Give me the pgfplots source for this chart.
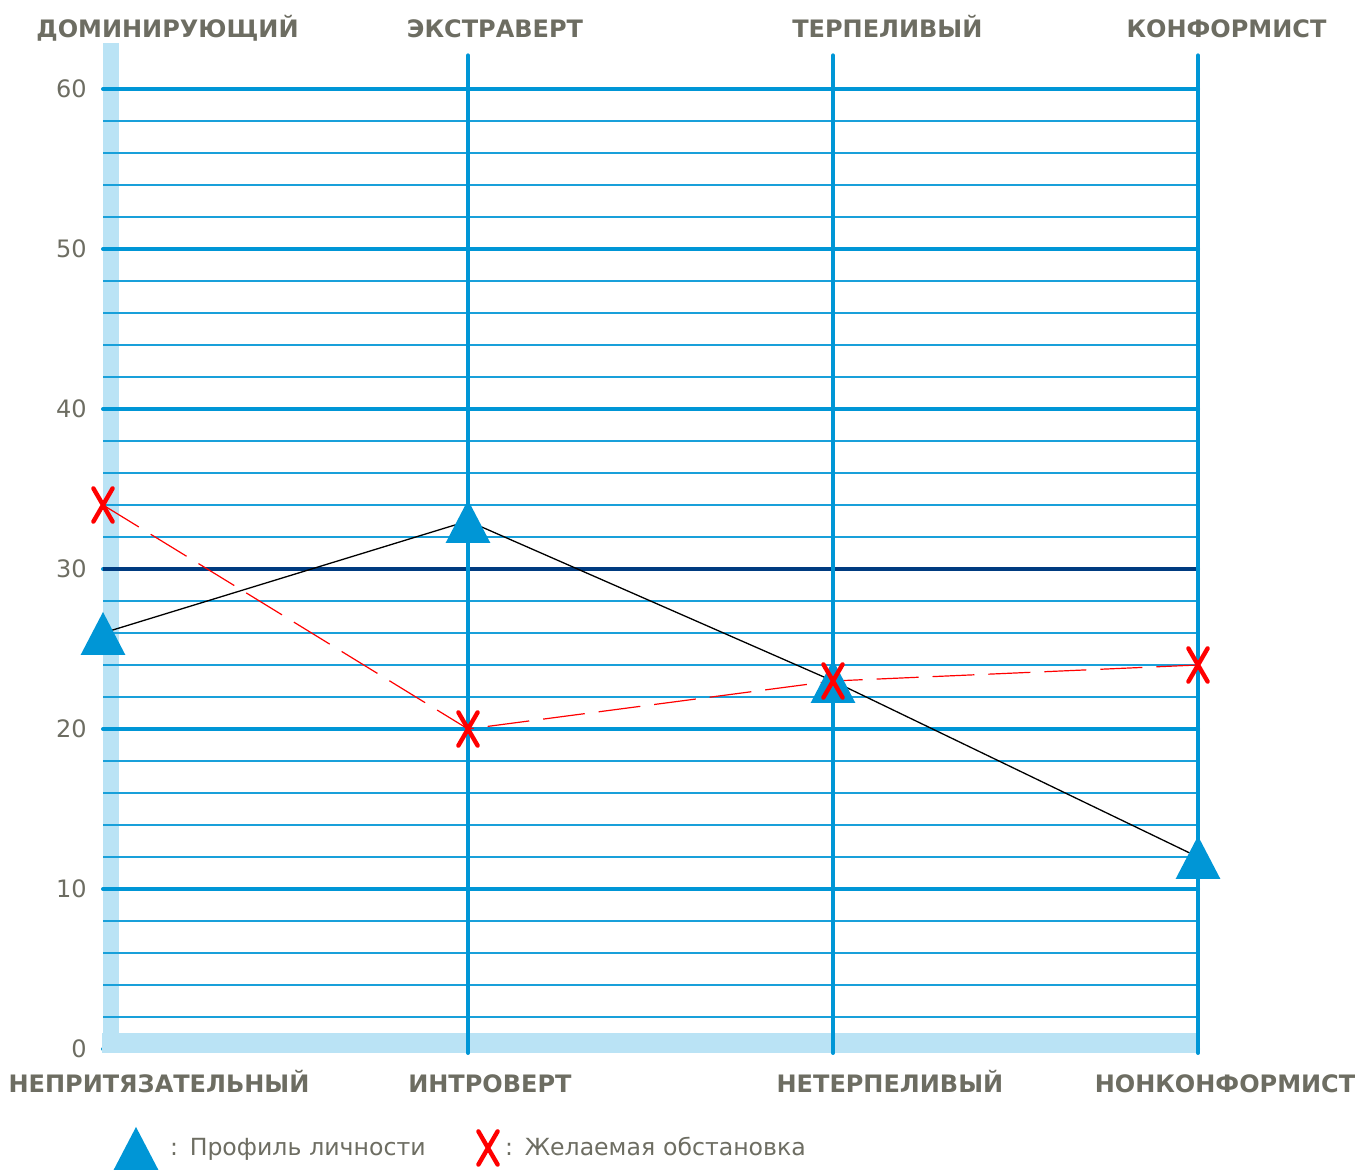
\documentclass[border=0pt]{standalone}
\usepackage{pgfplots}
\pgfplotsset{compat=1.18}
\usepackage{fontspec}
\setmainfont{DejaVu Sans}

\definecolor{gridblue}{HTML}{0096D6}
\definecolor{bandblue}{HTML}{BAE3F5}
\definecolor{navyline}{HTML}{003B80}
\definecolor{textgray}{HTML}{6D6D62}

% big markers as in the reference
\pgfdeclareplotmark{bigtri}{%
  \pgfpathmoveto{\pgfqpoint{0pt}{10.5pt}}%
  \pgfpathlineto{\pgfqpoint{11.2pt}{-11pt}}%
  \pgfpathlineto{\pgfqpoint{-11.2pt}{-11pt}}%
  \pgfpathclose
  \pgfusepathqfill}
\pgfdeclareplotmark{bigx}{%
  \pgfpathmoveto{\pgfqpoint{-4.8pt}{-8.3pt}}%
  \pgfpathlineto{\pgfqpoint{4.8pt}{8.3pt}}%
  \pgfpathmoveto{\pgfqpoint{-4.8pt}{8.3pt}}%
  \pgfpathlineto{\pgfqpoint{4.8pt}{-8.3pt}}%
  \pgfusepathqstroke}

\pgfplotsset{
  tri legend/.style={legend image code/.code={%
    \path[use as bounding box, draw=none, fill=none] (0pt,-10pt) rectangle (29pt,10pt);
    \pgfinterruptboundingbox
    \draw[##1, only marks] plot coordinates {(12pt,0pt)};
    \endpgfinterruptboundingbox}},
  x legend/.style={legend image code/.code={%
    \path[use as bounding box, draw=none, fill=none] (0pt,-10pt) rectangle (20.5pt,10pt);
    \pgfinterruptboundingbox
    \draw[##1, only marks] plot coordinates {(12pt,0pt)};
    \endpgfinterruptboundingbox}},
}

\tikzset{catlabel/.style={font=\bfseries\fontsize{12}{14}\selectfont, text=textgray, anchor=base, inner sep=0pt}}

\begin{document}
\begin{tikzpicture}
\begin{axis}[
  set layers,
  at={(0,0)}, anchor=south west,
  scale only axis, width=547.5pt, height=498.8pt,
  xmin=0, xmax=3, ymin=-0.25, ymax=62.1,
  clip=false,
  axis line style={draw=none},
  tick style={draw=none},
  major tick length=0pt, minor tick length=0pt,
  xtick=\empty,
  ytick={0,10,20,30,40,50,60},
  minor ytick={2,4,6,8,12,14,16,18,22,24,26,28,32,34,36,38,42,44,46,48,52,54,56,58},
  ymajorgrids, yminorgrids,
  major grid style={gridblue, line width=2pt, line cap=round},
  minor grid style={gridblue!90, line width=0.85pt},
  /pgf/number format/assume math mode=true,
  yticklabel style={font=\fontsize{12}{14}\selectfont, text=textgray, inner sep=0pt, anchor=east, xshift=-8pt},
  legend columns=2,
  legend cell align=left,
  legend style={at={(0.00822,-0.0952)}, anchor=west, draw=none, fill=none,
    inner sep=0pt, outer sep=0pt, column sep=0pt, row sep=0pt,
    nodes={inner sep=0pt, text width=147pt, align=left,
      font=\fontsize{11.8}{14}\selectfont, text=textgray}},
]
\begin{pgfonlayer}{axis background}
  \fill[bandblue] (axis cs:0,-0.25) rectangle (axis cs:0.044,62.9);
\end{pgfonlayer}

\draw[navyline, line width=2pt] (axis cs:0,30) -- (axis cs:3,30);
\fill[bandblue] (axis cs:-0.004,-0.25) rectangle (axis cs:3,1);
\draw[gridblue, line width=2pt, line cap=round] (axis cs:1,-0.25) -- (axis cs:1,62.1);
\draw[gridblue, line width=2pt, line cap=round] (axis cs:2,-0.25) -- (axis cs:2,62.1);
\draw[gridblue, line width=2pt, line cap=round] (axis cs:3,-0.25) -- (axis cs:3,62.1);

\addplot[black, line width=0.65pt, mark=bigtri, mark options={gridblue, solid}, tri legend]
  coordinates {(0,26) (1,33) (2,23) (3,12)};
\addlegendentry{\mbox{: Профиль личности}}
\addplot[red, line width=0.6pt, dash pattern=on 21pt off 7pt, mark=bigx,
  mark options={red, solid, line width=2.2pt, line cap=round}, x legend]
  coordinates {(0,34) (1,20) (2,23) (3,24)};
\addlegendentry{\mbox{: Желаемая обстановка}}

\node[catlabel] at (axis cs:0.1767,63.19) {ДОМИНИРУЮЩИЙ};
\node[catlabel] at (axis cs:1.074,63.19) {ЭКСТРАВЕРТ};
\node[catlabel] at (axis cs:2.149,63.19) {ТЕРПЕЛИВЫЙ};
\node[catlabel] at (axis cs:3.078,63.19) {КОНФОРМИСТ};
\node[catlabel] at (axis cs:0.1534,-2.75) {НЕПРИТЯЗАТЕЛЬНЫЙ};
\node[catlabel] at (axis cs:1.060,-2.75) {ИНТРОВЕРТ};
\node[catlabel] at (axis cs:2.156,-2.75) {НЕТЕРПЕЛИВЫЙ};
\node[catlabel] at (axis cs:3.074,-2.75) {НОНКОНФОРМИСТ};
\end{axis}
\pgfresetboundingbox
\path (-51.5pt,-59.5pt) rectangle (634.5pt,526.5pt);
\end{tikzpicture}
\end{document}
